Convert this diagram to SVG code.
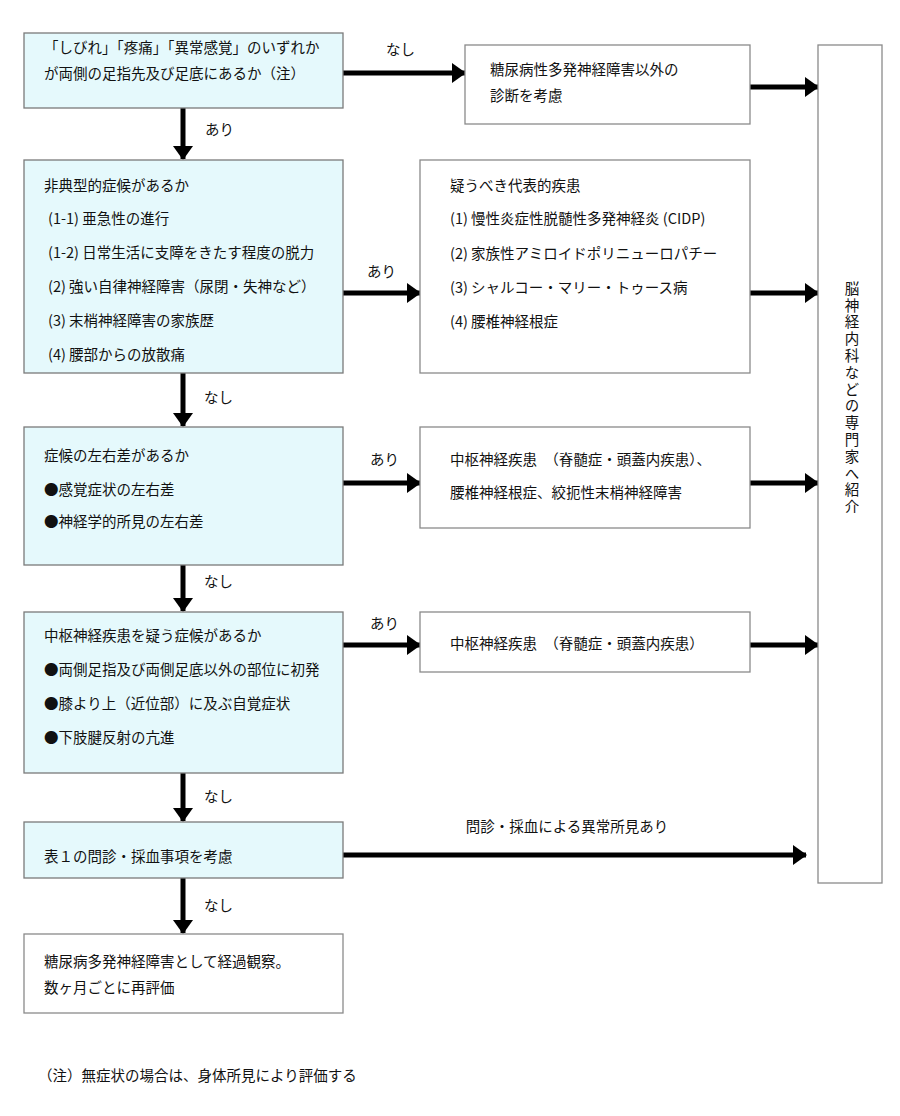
<svg xmlns="http://www.w3.org/2000/svg" width="900" height="1116" viewBox="0 0 900 1116">
<defs>
<marker id="ah" markerUnits="userSpaceOnUse" markerWidth="14" markerHeight="20" refX="13" refY="10" orient="auto">
<path d="M0,0 L14,10 L0,20 Z" fill="#000"/>
</marker>
<style>
text{font-family:"Noto Sans CJK JP","Noto Sans",sans-serif;font-size:14.5px;fill:#111}
.q{fill:#e5f9fc;stroke:#7a7a7a;stroke-width:1.3}
.w{fill:#fff;stroke:#8a8a8a;stroke-width:1.3}
.c{stroke:#000;stroke-width:5;fill:none;marker-end:url(#ah)}
</style>
</defs>
<rect width="900" height="1116" fill="#fff"/>

<g id="connectors">
<line class="c" x1="343" y1="73" x2="465" y2="73"/>
<line class="c" x1="750" y1="87" x2="818" y2="87"/>
<line class="c" x1="183" y1="108" x2="183" y2="159"/>
<line class="c" x1="343" y1="293" x2="420" y2="293"/>
<line class="c" x1="750" y1="293" x2="818" y2="293"/>
<line class="c" x1="183" y1="373" x2="183" y2="426"/>
<line class="c" x1="343" y1="483" x2="420" y2="483"/>
<line class="c" x1="750" y1="483" x2="818" y2="483"/>
<line class="c" x1="183" y1="565" x2="183" y2="611"/>
<line class="c" x1="343" y1="645" x2="420" y2="645"/>
<line class="c" x1="750" y1="645" x2="818" y2="645"/>
<line class="c" x1="183" y1="773" x2="183" y2="821"/>
<line class="c" x1="343" y1="855" x2="806" y2="855"/>
<line class="c" x1="183" y1="878" x2="183" y2="933"/>
<text x="386" y="55">なし</text>
<text x="205" y="135">あり</text>
<text x="367" y="277">あり</text>
<text x="204" y="403">なし</text>
<text x="370" y="465">あり</text>
<text x="204" y="587">なし</text>
<text x="370" y="629">あり</text>
<text x="204" y="802">なし</text>
<text x="567" y="832" text-anchor="middle">問診・採血による異常所見あり</text>
<text x="204" y="911">なし</text>
</g>

<g id="n1">
<rect class="q" x="24" y="33" width="319" height="75"/>
<text x="44" y="53">「しびれ」「疼痛」「異常感覚」のいずれか</text>
<text x="44" y="79">が両側の足指先及び足底にあるか（注）</text>
</g>

<g id="n2">
<rect class="w" x="465" y="45" width="285" height="79"/>
<text x="490" y="75">糖尿病性多発神経障害以外の</text>
<text x="490" y="101">診断を考慮</text>
</g>

<g id="n-refer">
<rect class="w" x="818" y="45" width="64" height="838"/>
<text x="852" y="281" style="writing-mode:vertical-rl;letter-spacing:2.3px">脳神経内科などの専門家へ紹介</text>
</g>

<g id="n3">
<rect class="q" x="24" y="160" width="319" height="213"/>
<text x="44" y="191">非典型的症候があるか</text>
<text x="48" y="224">(1-1) 亜急性の進行</text>
<text x="48" y="258">(1-2) 日常生活に支障をきたす程度の脱力</text>
<text x="48" y="292">(2) 強い自律神経障害（尿閉・失神など）</text>
<text x="48" y="326">(3) 末梢神経障害の家族歴</text>
<text x="48" y="360">(4) 腰部からの放散痛</text>
</g>

<g id="n4">
<rect class="w" x="420" y="160" width="330" height="213"/>
<text x="450" y="191">疑うべき代表的疾患</text>
<text x="450" y="224">(1) 慢性炎症性脱髄性多発神経炎 (CIDP)</text>
<text x="450" y="259">(2) 家族性アミロイドポリニューロパチー</text>
<text x="450" y="293">(3) シャルコー・マリー・トゥース病</text>
<text x="450" y="327">(4) 腰椎神経根症</text>
</g>

<g id="n5">
<rect class="q" x="24" y="427" width="319" height="138"/>
<text x="44" y="461">症候の左右差があるか</text>
<text x="44" y="495">●感覚症状の左右差</text>
<text x="44" y="527">●神経学的所見の左右差</text>
</g>

<g id="n6">
<rect class="w" x="420" y="427" width="330" height="101"/>
<text x="450" y="465">中枢神経疾患　（脊髄症・頭蓋内疾患）、</text>
<text x="450" y="498">腰椎神経根症、絞扼性末梢神経障害</text>
</g>

<g id="n7">
<rect class="q" x="24" y="612" width="319" height="161"/>
<text x="44" y="641">中枢神経疾患を疑う症候があるか</text>
<text x="44" y="675">●両側足指及び両側足底以外の部位に初発</text>
<text x="44" y="709">●膝より上（近位部）に及ぶ自覚症状</text>
<text x="44" y="743">●下肢腱反射の亢進</text>
</g>

<g id="n8">
<rect class="w" x="420" y="612" width="330" height="60"/>
<text x="450" y="649">中枢神経疾患　（脊髄症・頭蓋内疾患）</text>
</g>

<g id="n9">
<rect class="q" x="24" y="822" width="319" height="56"/>
<text x="44" y="862">表１の問診・採血事項を考慮</text>
</g>

<g id="n10">
<rect class="w" x="24" y="934" width="319" height="79"/>
<text x="44" y="967">糖尿病多発神経障害として経過観察。</text>
<text x="44" y="993">数ヶ月ごとに再評価</text>
</g>

<text x="38" y="1081">（注）無症状の場合は、身体所見により評価する</text>
</svg>
